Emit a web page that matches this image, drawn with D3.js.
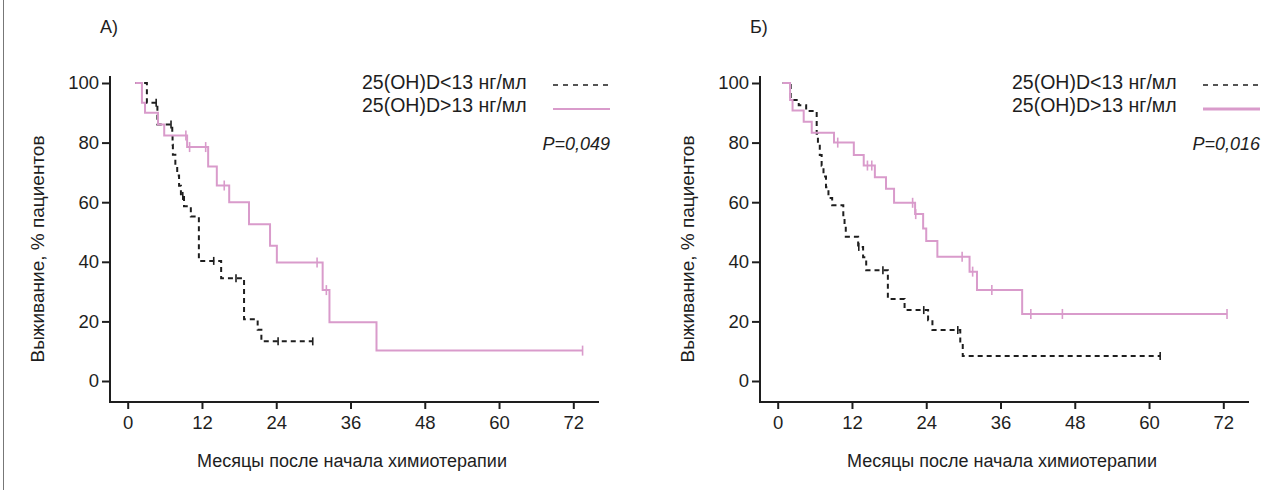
<!DOCTYPE html>
<html>
<head>
<meta charset="utf-8">
<script src="https://cdn.jsdelivr.net/npm/d3@7"></script>
<style>
  body { margin: 0; background: #fff; }
  svg { display: block; font-family: "Liberation Sans", Arial, sans-serif; }
</style>
</head>
<body>
<svg id="chart" width="1284" height="490"></svg>
<script>
const monthTicks = [0, 12, 24, 36, 48, 60, 72];
const survivalTicks = [0, 20, 40, 60, 80, 100];
const panelLabels = ["А)", "Б)"];
const pValues = ["P=0,049", "P=0,016"];
const seriesNames = ["25(OH)D<13 нг/мл", "25(OH)D>13 нг/мл"];

// steps are [month, % alive after the drop]; censored = months of the tick marks (last one ends the curve)
const aLowSteps = [[1.2, 100], [3.1, 93.4], [4.8, 86.1], [7.2, 82.8], [7.25, 79.3], [7.3, 75.9],
  [7.7, 72.4], [8.0, 69.0], [8.3, 65.5], [8.6, 62.1], [9.1, 58.6], [10.2, 55.2], [11.5, 40.3],
  [15.1, 34.5], [18.8, 20.7], [21.0, 17.2], [21.6, 13.3]];
const aLowCensored = [4.6, 7.0, 8.9, 13.9, 17.5, 24.3, 29.9];

const aHighSteps = [[1.2, 100], [2.3, 93.4], [2.8, 90.0], [4.9, 86.1], [5.9, 82.4], [9.6, 78.5],
  [13.0, 72.0], [14.4, 65.6], [16.4, 60.0], [19.6, 52.6], [23.0, 45.4], [24.1, 39.8],
  [31.5, 30.5], [32.6, 19.7], [40.2, 10.2]];
const aHighCensored = [9.4, 10.0, 12.6, 15.6, 30.6, 32.1, 73.5];

const bLowSteps = [[0.8, 100], [2.1, 94.3], [3.4, 92.5], [4.6, 90.6], [6.3, 83.0], [6.5, 79.4],
  [6.8, 75.8], [7.1, 72.2], [7.4, 68.6], [7.8, 65.0], [8.2, 61.4], [8.8, 59.0], [10.6, 55.6],
  [10.8, 52.0], [11.0, 48.4], [13.0, 45.0], [13.8, 41.5], [14.3, 37.2], [17.8, 27.5],
  [20.5, 23.8], [24.3, 20.4], [25.0, 17.1], [29.5, 12.7], [29.9, 8.4]];
const bLowCensored = [13.1, 17.0, 23.6, 29.1, 61.8];

const bHighSteps = [[0.8, 100], [2.0, 94.3], [2.4, 90.8], [4.2, 87.0], [5.5, 83.3], [9.1, 80.0],
  [12.3, 75.8], [13.9, 72.3], [15.7, 68.4], [17.5, 64.5], [18.8, 59.8], [22.2, 56.0],
  [23.5, 51.2], [24.0, 47.0], [25.8, 41.7], [31.0, 36.7], [32.2, 30.5], [39.5, 22.5]];
const bHighCensored = [9.7, 14.5, 15.2, 21.8, 22.3, 29.8, 31.5, 34.6, 40.9, 46.0, 72.6];

const panels = [
  { low: [aLowSteps, aLowCensored], high: [aHighSteps, aHighCensored], legendPink: 1.8 },
  { low: [bLowSteps, bLowCensored], high: [bHighSteps, bHighCensored], legendPink: 2.8 }
];

const ink = "#1e1e1e";
const pink = "#d99bcb";
const panelShift = 650;

const svg = d3.select("#chart");

// thin frame edge on the left
svg.append("line")
  .attr("x1", 3.5).attr("x2", 3.5).attr("y1", 0).attr("y2", 490)
  .attr("stroke", "#777").attr("stroke-width", 1);

const x = d3.scaleLinear().domain([0, 72]).range([127.7, 573.3]);
const y = d3.scaleLinear().domain([0, 100]).range([381, 83]);

function valueAt(steps, t) {
  let v = steps[0][1];
  for (const [m, s] of steps) if (m <= t) v = s;
  return v;
}

const stepLine = d3.line()
  .x((d) => x(d[0]))
  .y((d) => y(d[1]))
  .curve(d3.curveStepAfter);

panels.forEach((p, i) => {
  const g = svg.append("g").attr("transform", `translate(${i * panelShift},0)`);

  // axes
  const yAxis = g.append("g")
    .attr("transform", "translate(110,0)")
    .call(d3.axisLeft(y).tickValues(survivalTicks).tickSize(8).tickPadding(3).tickSizeOuter(0));
  const xAxis = g.append("g")
    .attr("transform", "translate(0,402)")
    .call(d3.axisBottom(x).tickValues(monthTicks).tickSize(7).tickPadding(7).tickSizeOuter(0));
  [yAxis, xAxis].forEach((a) => {
    a.select(".domain").remove();
    a.selectAll("line").attr("stroke", ink).attr("stroke-width", 2);
    a.selectAll("text").attr("fill", ink).attr("font-size", 18.5)
      .attr("font-family", "Liberation Sans, Arial, sans-serif");
  });
  g.append("path")
    .attr("d", "M110,76V402H599")
    .attr("fill", "none").attr("stroke", ink).attr("stroke-width", 2);

  // curves
  const series = [
    { data: p.low, color: ink, dash: "5,4", tick: 4 },
    { data: p.high, color: pink, dash: null, tick: 5 }
  ];
  series.forEach((s) => {
    const [steps, cens] = s.data;
    const end = d3.max(cens);
    const pts = steps.concat([[end, steps[steps.length - 1][1]]]);
    g.append("path")
      .attr("d", stepLine(pts))
      .attr("fill", "none")
      .attr("stroke", s.color)
      .attr("stroke-width", 2)
      .attr("stroke-dasharray", s.dash);
    g.append("g").selectAll("line")
      .data(cens)
      .join("line")
      .attr("x1", (d) => x(d)).attr("x2", (d) => x(d))
      .attr("y1", (d) => y(valueAt(steps, d)) - s.tick)
      .attr("y2", (d) => y(valueAt(steps, d)) + s.tick)
      .attr("stroke", s.color)
      .attr("stroke-width", 1.6);
  });

  // legend
  const leg = g.append("g");
  seriesNames.forEach((name, k) => {
    leg.append("text")
      .attr("x", 362).attr("y", 89 + k * 22.5)
      .attr("font-size", 19.5).attr("fill", ink)
      .text(name);
    leg.append("line")
      .attr("x1", 553).attr("x2", 610)
      .attr("y1", 85 + k * 24).attr("y2", 85 + k * 24)
      .attr("stroke", k === 0 ? ink : pink)
      .attr("stroke-width", k === 0 ? 1.6 : p.legendPink)
      .attr("stroke-dasharray", k === 0 ? "5,5" : null);
  });
  g.append("text")
    .attr("x", 610).attr("y", 150)
    .attr("text-anchor", "end")
    .attr("font-size", 18).attr("font-style", "italic").attr("fill", ink)
    .text(pValues[i]);

  // titles
  g.append("text")
    .attr("x", 100).attr("y", 33)
    .attr("font-size", 18).attr("fill", ink)
    .text(panelLabels[i]);
  g.append("text")
    .attr("transform", "translate(44,249) rotate(-90)")
    .attr("text-anchor", "middle")
    .attr("font-size", 19).attr("fill", ink)
    .text("Выживание, % пациентов");
  g.append("text")
    .attr("x", 352).attr("y", 467)
    .attr("text-anchor", "middle")
    .attr("font-size", 18).attr("fill", ink)
    .text("Месяцы после начала химиотерапии");
});
</script>
</body>
</html>
